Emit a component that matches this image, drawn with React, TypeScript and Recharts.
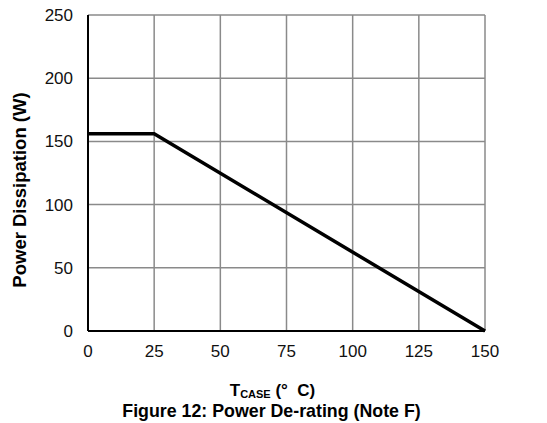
import { LineChart, Line, XAxis, YAxis, CartesianGrid } from "recharts";

const TEMPS = [0, 25, 150];
const POWER = [156, 156, 0];
const X_TICKS = [0, 25, 50, 75, 100, 125, 150];
const Y_TICKS = [0, 50, 100, 150, 200, 250];

const data = TEMPS.map((t, i) => ({ t, p: POWER[i] }));

const FONT = '"Liberation Sans", Arial, sans-serif';

export default function App() {
  return (
    <div style={{ position: "absolute", left: 0, top: 0, width: 547, height: 423, background: "#fff", fontFamily: FONT, color: "#000" }}>
      <LineChart width={547} height={423} data={data} margin={{ top: 15, right: 62, left: 28, bottom: 62 }}>
        <CartesianGrid stroke="#8a8a8a" strokeWidth={1.5} />
        <XAxis
          type="number"
          dataKey="t"
          domain={[0, 150]}
          ticks={X_TICKS}
          tickLine={false}
          tickMargin={8}
          height={30}
          axisLine={{ stroke: "#000", strokeWidth: 2 }}
          tick={{ fill: "#111", fontSize: 17, fontFamily: FONT }}
        />
        <YAxis
          type="number"
          domain={[0, 250]}
          ticks={Y_TICKS}
          tickLine={false}
          tickMargin={9}
          width={60}
          axisLine={{ stroke: "#000", strokeWidth: 2 }}
          tick={{ fill: "#111", fontSize: 17, fontFamily: FONT }}
        />
        <Line
          dataKey="p"
          type="linear"
          stroke="#000"
          strokeWidth={3.5}
          dot={false}
          isAnimationActive={false}
        />
      </LineChart>
      <div
        style={{
          position: "absolute",
          left: 20,
          top: 190,
          transform: "translate(-50%, -50%) rotate(-90deg)",
          whiteSpace: "nowrap",
          fontWeight: "bold",
          fontSize: 18.5,
        }}
      >
        Power Dissipation (W)
      </div>
      <div style={{ position: "absolute", left: 0, width: 545, top: 381, lineHeight: "20px", textAlign: "center", fontWeight: "bold", fontSize: 17 }}>
        T<sub style={{ fontSize: 11, verticalAlign: "-2px", lineHeight: 0 }}>CASE</sub> (°&nbsp; C)
      </div>
      <div style={{ position: "absolute", left: 0, width: 543, top: 400.5, lineHeight: "20px", textAlign: "center", fontWeight: "bold", fontSize: 17.8 }}>
        Figure 12: Power De-rating (Note F)
      </div>
    </div>
  );
}
